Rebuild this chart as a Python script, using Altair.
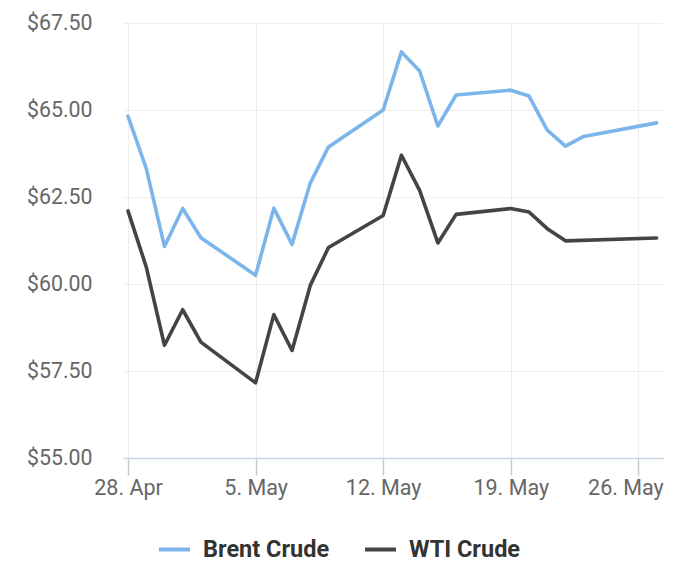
import altair as alt
import pandas as pd

brent_dates = ["2025-04-28", "2025-04-29", "2025-04-30", "2025-05-01", "2025-05-02",
               "2025-05-05", "2025-05-06", "2025-05-07", "2025-05-08", "2025-05-09",
               "2025-05-12", "2025-05-13", "2025-05-14", "2025-05-15", "2025-05-16",
               "2025-05-19", "2025-05-20", "2025-05-21", "2025-05-22", "2025-05-23",
               "2025-05-27"]
brent_values = [64.82, 63.32, 61.08, 62.17, 61.33,
                60.25, 62.18, 61.14, 62.90, 63.94,
                65.00, 66.67, 66.12, 64.54, 65.43,
                65.57, 65.40, 64.42, 63.96, 64.24,
                64.63]

wti_dates = ["2025-04-28", "2025-04-29", "2025-04-30", "2025-05-01", "2025-05-02",
             "2025-05-05", "2025-05-06", "2025-05-07", "2025-05-08", "2025-05-09",
             "2025-05-12", "2025-05-13", "2025-05-14", "2025-05-15", "2025-05-16",
             "2025-05-19", "2025-05-20", "2025-05-21", "2025-05-22",
             "2025-05-27"]
wti_values = [62.10, 60.49, 58.24, 59.26, 58.33,
              57.16, 59.12, 58.09, 59.96, 61.05,
              61.97, 63.70, 62.69, 61.18, 62.00,
              62.17, 62.07, 61.59, 61.24,
              61.32]

series_names = ["Brent Crude", "WTI Crude"]
series_colors = ["#7cb5ec", "#434348"]

x_ticks = ["2025-04-28", "2025-05-05", "2025-05-12", "2025-05-19", "2025-05-26"]
x_domain = ["2025-04-27T17:25:00", "2025-05-27T08:25:00"]
y_ticks = [55, 57.5, 60, 62.5, 65, 67.5]


def ms(s):
    return int(pd.Timestamp(s, tz="UTC").value // 10**6)


rows = []
for d, v in zip(brent_dates, brent_values):
    rows.append({"date": ms(d), "price": v, "series": series_names[0]})
for d, v in zip(wti_dates, wti_values):
    rows.append({"date": ms(d), "price": v, "series": series_names[1]})
df = pd.DataFrame(rows)

FONT = "Roboto"

x_axis = alt.Axis(
    values=[ms(t) for t in x_ticks],
    format="%-d. %b",
    formatType="time",
    title=None,
    grid=True,
    gridColor="#eeeeee",
    gridWidth=1,
    domainColor="#ccd6eb",
    domainWidth=1.5,
    tickColor="#c8c8c8",
    tickSize=17,
    tickWidth=1.5,
    labelFont=FONT,
    labelFontSize=21.5,
    labelColor="#666666",
    labelPadding=2,
    labelOffset={"condition": {"test": "datum.index === 1", "value": -13}, "value": 0},
)

y_axis = alt.Axis(
    values=y_ticks,
    format="$.2f",
    title=None,
    grid=True,
    gridColor="#eeeeee",
    gridWidth=1,
    domain=False,
    ticks=False,
    tickSize=0,
    labelFont=FONT,
    labelFontSize=21.3,
    labelColor="#666666",
    labelPadding=31,
)

chart = (
    alt.Chart(df)
    .mark_line(strokeWidth=3.6, strokeJoin="round", strokeCap="round")
    .encode(
        x=alt.X("date:T", axis=x_axis,
                scale=alt.Scale(type="utc", domain=[ms(x_domain[0]), ms(x_domain[1])])),
        y=alt.Y("price:Q", axis=y_axis, scale=alt.Scale(domain=[55, 67.5], nice=False, zero=False)),
        color=alt.Color(
            "series:N",
            scale=alt.Scale(domain=series_names, range=series_colors),
            legend=alt.Legend(
                title=None,
                orient="none",
                direction="horizontal",
                legendX=34,
                legendY=509,
                symbolType="stroke",
                symbolSize=961,
                symbolStrokeWidth=4,
                labelFont=FONT,
                labelFontSize=23.5,
                labelFontWeight="bold",
                labelColor="#333333",
                labelOffset=11,
                columnPadding=27,
                labelLimit=300,
            ),
        ),
        order=alt.Order("series:N"),
    )
    .properties(
        width=540,
        height=435,
        autosize=alt.AutoSizeParams(type="none"),
        padding={"left": 115, "top": 15, "right": 29, "bottom": 110},
    )
    .configure_view(stroke=None)
)

chart.save("out.html", embed_options={"renderer": "svg", "actions": False})
